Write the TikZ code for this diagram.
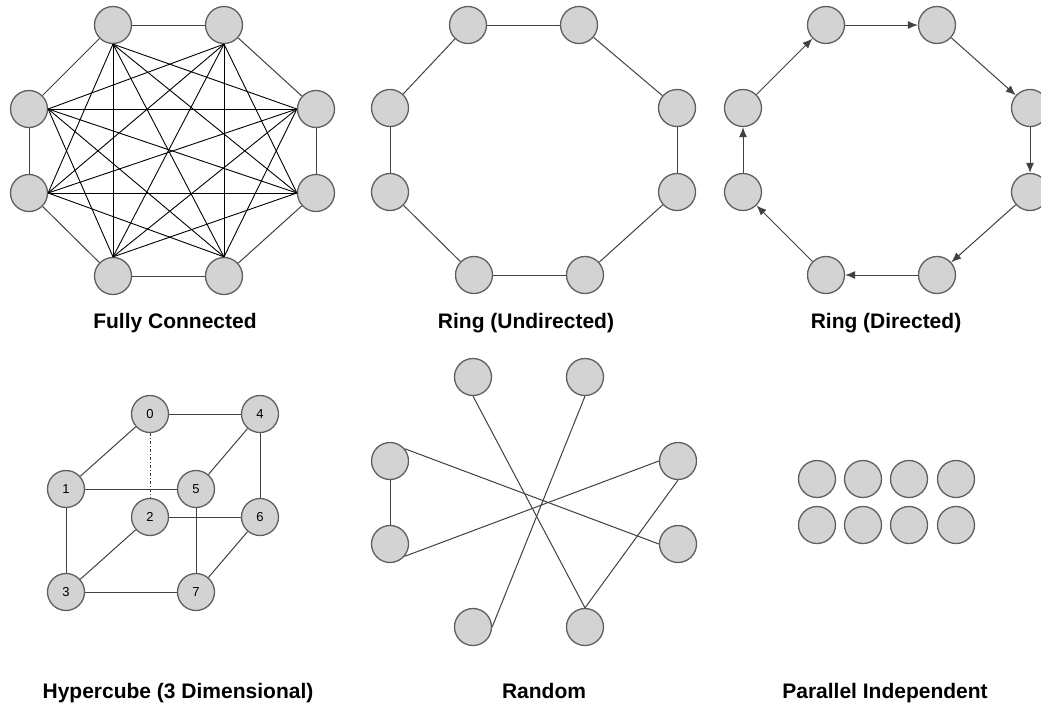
\documentclass[tikz,border=0pt]{standalone}
\usepackage{fontspec}
\setmainfont{Liberation Sans}
\usetikzlibrary{arrows.meta}
\definecolor{nodefill}{RGB}{211,211,211}
\definecolor{nodeline}{RGB}{95,95,95}
\definecolor{edgeline}{RGB}{65,65,65}

\begin{document}
\begin{tikzpicture}[x=1pt, y=-1pt,
  proc/.style={circle, draw=nodeline, fill=nodefill, line width=1.3pt,
    minimum size=37pt, inner sep=0pt, font=\fontsize{13}{15}\selectfont},
  link/.style={draw=edgeline, line width=1pt},
  mesh/.style={draw=black, line width=0.9pt},
  arc/.style={link, -{Latex[length=10pt, width=8pt]}},
  title/.style={font=\fontsize{21}{25}\selectfont\bfseries, anchor=base}]
  \useasboundingbox (0,0) rectangle (1041,707);

  % fully connected
  \node[proc] (f1) at (113,25) {};
  \node[proc] (f2) at (224,25) {};
  \node[proc] (f3) at (316,109) {};
  \node[proc] (f4) at (316,193) {};
  \node[proc] (f5) at (224,276) {};
  \node[proc] (f6) at (113,276) {};
  \node[proc] (f7) at (29,193) {};
  \node[proc] (f8) at (29,109) {};
  \foreach \u/\v in {f1/f2, f2/f3, f3/f4, f4/f5, f5/f6, f6/f7, f7/f8, f8/f1}
    \draw[link] (\u) -- (\v);
  \foreach \u/\v in {f1.south/f3.west, f1.south/f4.west, f1.south/f5.north,
      f1.south/f6.north, f1.south/f7.east, f2.south/f4.west, f2.south/f5.north,
      f2.south/f6.north, f2.south/f7.east, f2.south/f8.east, f3.west/f5.north,
      f3.west/f6.north, f3.west/f7.east, f3.west/f8.east, f4.west/f6.north,
      f4.west/f7.east, f4.west/f8.east, f5.north/f7.east, f5.north/f8.east,
      f6.north/f8.east}
    \draw[mesh] (\u) -- (\v);

  % ring, undirected
  \node[proc] (u1) at (468,25) {};
  \node[proc] (u2) at (579,25) {};
  \node[proc] (u3) at (677,108) {};
  \node[proc] (u4) at (677,192) {};
  \node[proc] (u5) at (585,275) {};
  \node[proc] (u6) at (474,275) {};
  \node[proc] (u7) at (390,192) {};
  \node[proc] (u8) at (390,108) {};
  \foreach \u/\v in {u1/u2, u2/u3, u3/u4, u4/u5, u5/u6, u6/u7, u7/u8, u8/u1}
    \draw[link] (\u) -- (\v);

  % ring, directed
  \node[proc] (d1) at (826,25) {};
  \node[proc] (d2) at (937,25) {};
  \node[proc] (d3) at (1030,108) {};
  \node[proc] (d4) at (1030,192) {};
  \node[proc] (d5) at (937,275) {};
  \node[proc] (d6) at (826,275) {};
  \node[proc] (d7) at (743,192) {};
  \node[proc] (d8) at (743,108) {};
  \foreach \u/\v in {d1/d2, d2/d3, d3/d4, d4/d5, d5/d6, d6/d7, d7/d8, d8/d1}
    \draw[arc] (\u) -- (\v);

  % hypercube
  \node[proc] (h0) at (150,414) {0};
  \node[proc] (h4) at (260,414) {4};
  \node[proc] (h1) at (66,489) {1};
  \node[proc] (h5) at (196,489) {5};
  \node[proc] (h2) at (150,517) {2};
  \node[proc] (h6) at (260,517) {6};
  \node[proc] (h3) at (66,592) {3};
  \node[proc] (h7) at (196,592) {7};
  \foreach \u/\v in {h0/h4, h0/h1, h4/h5, h4/h6, h1/h5, h1/h3, h2/h6, h2/h3,
      h5/h7, h6/h7, h3/h7}
    \draw[link] (\u) -- (\v);
  \draw[link, dash dot] (h0) -- (h2);

  % random
  \node[proc] (r1) at (473,377) {};
  \node[proc] (r2) at (585,377) {};
  \node[proc] (r3) at (678,461) {};
  \node[proc] (r4) at (678,544) {};
  \node[proc] (r5) at (585,627) {};
  \node[proc] (r6) at (473,627) {};
  \node[proc] (r7) at (390,544) {};
  \node[proc] (r8) at (390,461) {};
  \foreach \u/\v in {r8.south/r7.north, r8.40/r4.west, r7.-40/r3.west,
      r1.south/r5.north, r2.south/r6.east, r3.south/r5.north}
    \draw[link] (\u) -- (\v);

  % parallel independent
  \foreach \x [count=\i] in {817,863,909,956} {
    \node[proc] (pa\i) at (\x,479) {};
    \node[proc] (pb\i) at (\x,525) {};
  }

  \node[title] (tfull) at (175,328) {Fully Connected};
  \node[title] (tundir) at (526,328) {Ring (Undirected)};
  \node[title] (tdir) at (886,328) {Ring (Directed)};
  \node[title] (tcube) at (178,698) {Hypercube (3 Dimensional)};
  \node[title] (trand) at (544,698) {Random};
  \node[title] (tpar) at (885,698) {Parallel Independent};
\end{tikzpicture}
\end{document}
